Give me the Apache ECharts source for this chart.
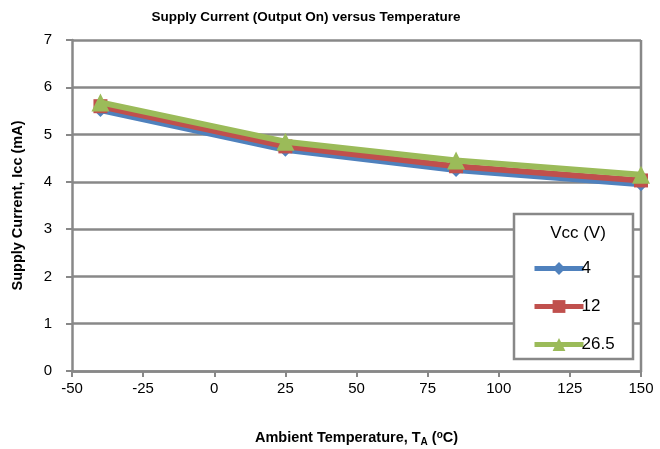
<!DOCTYPE html>
<html><head><meta charset="utf-8">
<script src="https://cdn.jsdelivr.net/npm/echarts@6/dist/echarts.min.js"></script>
<style>html,body{margin:0;padding:0;background:#fff}#c{width:660px;height:449px}</style>
</head><body><div id="c"></div>
<script>
const temps = [-40, 25, 85, 150];
const seriesNames = ['4', '12', '26.5'];
const vcc4 = [5.52, 4.68, 4.25, 3.95];
const vcc12 = [5.60, 4.75, 4.33, 4.03];
const vcc265 = [5.68, 4.85, 4.45, 4.15];
const colors = ['#4F81BD', '#C0504D', '#9BBB59'];
const symbols = ['diamond', 'rect', 'triangle'];
const values = [vcc4, vcc12, vcc265];
const xTicks = [-50, -25, 0, 25, 50, 75, 100, 125, 150];
const yTicks = [0, 1, 2, 3, 4, 5, 6, 7];

const font = 'Liberation Sans';
const chart = echarts.init(document.getElementById('c'));
const series = seriesNames.map((n, i) => ({
  name: n, type: 'line',
  data: temps.map((t, j) => [t, values[i][j]]),
  symbol: symbols[i], symbolSize: i === 2 ? 18 : 14,
  lineStyle: { width: 6, color: colors[i] },
  itemStyle: { color: colors[i] },
  z: 2 + i
}));
chart.setOption({
  animation: false,
  title: [{
    text: 'Supply Current (Output On) versus Temperature',
    left: 301, top: 5, textAlign: 'center',
    textStyle: { fontFamily: font, fontSize: 13.5, fontWeight: 'bold', color: '#000' }
  }, {
    text: 'Vcc (V)', left: 573, top: 220, textAlign: 'center', z: 30,
    textStyle: { fontFamily: font, fontSize: 17, fontWeight: 'normal', color: '#000' }
  }],
  grid: { left: 72, right: 19, top: 40, bottom: 78, containLabel: false, outerBoundsMode: 'none' },
  xAxis: {
    type: 'value', min: -50, max: 150, interval: 25,
    axisLine: { show: true, onZero: false, lineStyle: { color: '#888', width: 2.5 } },
    axisTick: { show: true, length: 6, lineStyle: { color: '#888', width: 2 } },
    splitLine: { show: false },
    axisLabel: { fontFamily: font, fontSize: 15, color: '#000', margin: 10 },
    name: '{b|Ambient Temperature, T}{s|A}{b| (}{p|o}{b|C)}',
    nameLocation: 'middle', nameGap: 58,
    nameTextStyle: {
      rich: {
        b: { fontFamily: font, fontSize: 14.5, fontWeight: 'bold', color: '#000' },
        s: { fontFamily: font, fontSize: 10, fontWeight: 'bold', color: '#000', padding: [8, 0, 0, 0] },
        p: { fontFamily: font, fontSize: 10, fontWeight: 'bold', color: '#000', padding: [0, 0, 6, 0] }
      }
    }
  },
  yAxis: {
    type: 'value', min: 0, max: 7, interval: 1,
    axisLine: { show: true, onZero: false, lineStyle: { color: '#888', width: 2.5 } },
    axisTick: { show: true, length: 6, lineStyle: { color: '#888', width: 2 } },
    splitLine: { show: true, lineStyle: { color: '#888', width: 2.5 } },
    axisLabel: { fontFamily: font, fontSize: 15, color: '#000', margin: 20 },
    name: 'Supply Current, Icc (mA)', nameLocation: 'middle', nameGap: 47,
    nameTextStyle: { fontFamily: font, fontSize: 14.5, fontWeight: 'bold', color: '#000' }
  },
  graphic: [{
    type: 'rect', shape: { x: 514, y: 214, width: 119, height: 145 },
    style: { fill: '#fff', stroke: '#888', lineWidth: 2.5 }, z: 10
  }, {
    type: 'line', shape: { x1: 641, y1: 40, x2: 641, y2: 371 },
    style: { stroke: '#888', lineWidth: 2.5 }, z: 1
  }],
  legend: {
    orient: 'vertical', left: 527, top: 255, itemGap: 21,
    itemWidth: 49, itemHeight: 16, z: 20,
    lineStyle: { width: 5 },
    textStyle: { fontFamily: font, fontSize: 17, color: '#000', padding: [0, 0, 0, -7] },
    data: seriesNames
  },
  series: series
});
</script></body></html>
